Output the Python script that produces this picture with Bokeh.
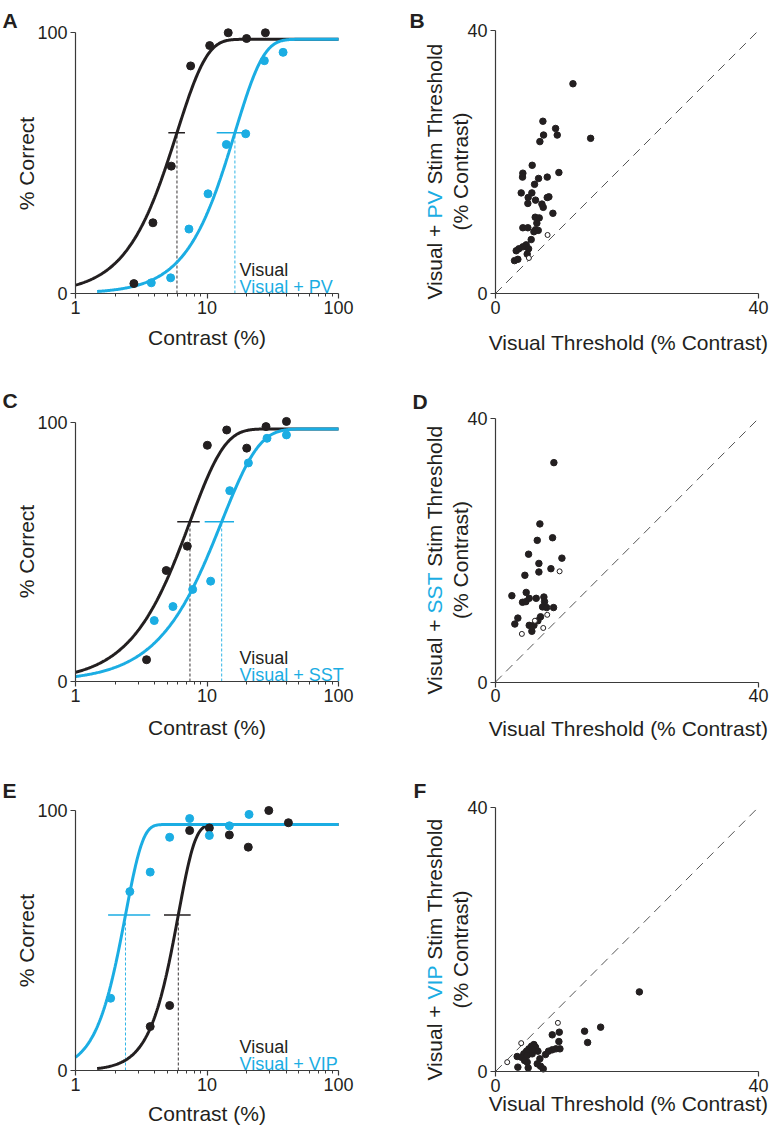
import numpy as np
from bokeh.plotting import figure
from bokeh.layouts import column, row
from bokeh.models import Range1d, FixedTicker, Label, PrintfTickFormatter
from bokeh.embed import file_html
from bokeh.resources import INLINE

BLUE = "#1BADE3"
BLACK = "#231F20"
AXIS = "#3a3a3a"
FONT = "Liberation Sans"

# ---------------- axes / tick values ----------------
contrast_range = [1, 100]
contrast_ticks = [1, 10, 100]
contrast_minor = [2, 3, 4, 5, 6, 7, 8, 9, 20, 30, 40, 50, 60, 70, 80, 90]
correct_range = [0, 100]
correct_ticks = [0, 100]
thresh_range = [0, 40]
thresh_ticks = [0, 40]

# ---------------- Panel A : PV ----------------
a_vis_x = [2.78, 3.88, 5.35, 7.51, 10.48, 14.5, 20.0, 27.8]
a_vis_y = [3.8, 27.1, 48.8, 87.2, 95.0, 99.9, 97.7, 99.9]
a_stim_x = [3.77, 5.29, 7.29, 10.18, 14.04, 19.7, 27.3, 37.9]
a_stim_y = [4.1, 6.0, 24.7, 38.2, 57.1, 61.2, 89.2, 92.4]
# fitted Weibull: threshold, slope, maximum, first contrast of curve
a_vis_fit = [5.91, 1.91, 97.4, 1.0]
a_stim_fit = [16.3, 2.0, 97.4, 1.46]
a_vis_ci = [5.08, 6.80]
a_stim_ci = [11.85, 19.5]

# ---------------- Panel C : SST ----------------
c_vis_x = [3.47, 4.90, 7.08, 10.06, 14.12, 20.05, 28.1, 40.2]
c_vis_y = [8.4, 42.8, 52.2, 91.1, 97.0, 90.0, 98.3, 100.3]
c_stim_x = [3.97, 5.51, 7.78, 10.66, 14.89, 20.64, 28.6, 40.2]
c_stim_y = [23.5, 28.9, 35.5, 38.7, 73.6, 84.3, 93.8, 95.1]
c_vis_fit = [7.42, 1.64, 97.4, 1.0]
c_stim_fit = [12.93, 1.53, 97.4, 1.0]
c_vis_ci = [5.94, 8.80]
c_stim_ci = [9.6, 16.05]

# ---------------- Panel E : VIP ----------------
e_vis_x = [3.70, 5.20, 7.38, 10.42, 14.79, 20.6, 29.5, 41.6]
e_vis_y = [16.9, 25.0, 92.3, 93.3, 90.6, 85.9, 100.0, 95.3]
e_stim_x = [1.85, 2.59, 3.70, 5.20, 7.38, 10.42, 14.79, 20.88]
e_stim_y = [27.8, 68.8, 76.3, 89.7, 96.9, 90.4, 94.1, 98.5]
e_vis_fit = [6.05, 3.4, 94.6, 1.46]
e_stim_fit = [2.40, 3.3, 94.6, 1.0]
e_vis_ci = [4.71, 7.51]
e_stim_ci = [1.77, 3.70]

# ---------------- Panel B : PV thresholds ----------------
b_fill_x = [11.78, 7.21, 9.14, 7.31, 9.39, 6.75, 14.47, 5.58, 4.16, 4.11, 7.87, 9.64,
            5.94, 6.55, 3.91, 5.53, 4.97, 6.09, 4.92, 7.06, 8.12, 7.87, 7.26, 8.73,
            6.04, 6.65, 4.16, 4.92, 6.29, 6.09, 5.84, 6.50, 5.43, 4.67, 4.16, 5.03,
            3.55, 3.15, 2.89, 3.40, 4.82]
b_fill_y = [31.9, 26.2, 25.1, 24.1, 24.1, 23.1, 23.6, 19.5, 18.3, 17.7, 17.7, 18.4,
            16.6, 17.5, 15.3, 15.3, 14.6, 14.2, 13.7, 13.6, 14.7, 14.6, 13.1, 12.2,
            11.6, 11.5, 10.0, 10.0, 10.7, 9.7, 9.4, 9.6, 8.2, 7.4, 7.1, 6.8,
            6.8, 6.5, 5.0, 5.2, 6.0]
b_open_x = [7.92, 5.08]
b_open_y = [8.9, 5.4]

# ---------------- Panel D : SST thresholds ----------------
d_fill_x = [8.88, 6.75, 6.35, 8.68, 5.03, 10.10, 6.60, 6.60, 8.43, 4.47, 2.49, 4.67,
            4.11, 4.62, 5.13, 6.19, 7.36, 7.46, 7.16, 7.77, 8.83, 3.40, 2.94, 5.13,
            6.85, 6.45, 5.84, 5.53]
d_fill_y = [33.3, 24.0, 21.5, 21.9, 19.4, 18.8, 18.0, 16.7, 17.2, 16.2, 13.1, 13.6,
            12.1, 12.2, 12.7, 12.7, 12.9, 12.2, 11.4, 11.3, 11.3, 9.7, 8.8, 8.6,
            9.9, 9.3, 8.6, 7.7]
d_open_x = [9.75, 7.87, 5.99, 7.26, 4.01]
d_open_y = [16.8, 10.2, 9.3, 8.2, 7.3]

# ---------------- Panel F : VIP thresholds ----------------
f_fill_x = [21.88, 15.99, 13.55, 14.01, 8.63, 9.70, 9.64, 9.80, 9.19, 8.63, 8.07, 7.61,
            5.84, 5.48, 6.09, 5.08, 4.72, 4.31, 3.30, 3.91, 4.82, 5.58, 6.45, 6.75,
            6.35, 6.85, 7.26, 4.82, 4.97, 3.40, 4.42, 5.58]
f_fill_y = [12.05, 6.71, 6.10, 4.39, 5.55, 5.95, 4.54, 3.43, 3.43, 3.28, 3.08, 2.57,
            4.08, 3.83, 3.68, 3.43, 3.08, 2.67, 2.27, 2.17, 2.42, 2.67, 3.08, 1.92,
            1.16, 0.81, 0.40, 1.41, 0.55, 0.66, 1.66, 3.28]
f_open_x = [9.49, 3.91, 1.78]
f_open_y = [7.36, 4.29, 1.41]

# Arial / Liberation Sans advance widths (1/1000 em)
ADV = {'V': 667, 'i': 222, 's': 500, 'u': 556, 'a': 556, 'l': 222, ' ': 278, '+': 584,
       'P': 667, 'S': 667, 'T': 611, 'I': 278, 't': 278, 'm': 833, 'h': 556, 'r': 333,
       'e': 556, 'o': 556, 'd': 556}


def text_w(s, fs):
    return sum(ADV.get(ch, 556) for ch in s) / 1000.0 * fs


def weibull(c, thr, slope, top):
    return top * (1.0 - np.exp(-(np.asarray(c) / thr) ** slope))


def make_fig(W, H, ox, oy, xppu, yppu, log):
    """Whole canvas is the frame; axes are pinned at the data origin."""
    if log:
        xr = Range1d(10 ** (-ox / xppu), 10 ** ((W - ox) / xppu))
    else:
        xr = Range1d(-ox / xppu, (W - ox) / xppu)
    yr = Range1d(-oy / yppu, (H - oy) / yppu)
    p = figure(width=W, height=H, x_range=xr, y_range=yr,
               x_axis_type="log" if log else "linear",
               min_border=0, output_backend="svg", toolbar_location=None)
    for ax in (p.xaxis[0], p.yaxis[0]):
        ax.axis_line_color = AXIS
        ax.axis_line_width = 1.2
        ax.major_tick_line_color = AXIS
        ax.major_tick_line_width = 1.2
        ax.major_tick_out = 5
        ax.major_tick_in = 0
        ax.minor_tick_line_color = AXIS
        ax.minor_tick_out = 3
        ax.minor_tick_in = 0
        ax.major_label_text_font = FONT
        ax.major_label_text_font_size = "18px"
        ax.major_label_text_color = BLACK
    p.xaxis[0].major_label_standoff = 2
    p.yaxis[0].major_label_standoff = 3
    p.grid.visible = False
    p.outline_line_color = None
    p.background_fill_color = "white"
    p.border_fill_color = "white"
    return p


def lab(p, text, x, y, size, color=BLACK, align="center", baseline="middle", angle=0.0, bold=False):
    p.add_layout(Label(x=x, y=y, x_units="screen", y_units="screen", text=text,
                       text_font=FONT, text_font_size=f"{size}px", text_color=color,
                       text_align=align, text_baseline=baseline, angle=angle,
                       text_font_style="bold" if bold else "normal"))


def curve_panel(letter, letter_dx, letter_dy, vis_x, vis_y, stim_x, stim_y, vis_fit, stim_fit,
                vis_ci, stim_ci, stim_name, H, oy, yppu, xlab_dy):
    ox = 75
    p = make_fig(408, H, ox, oy, 131.5, yppu, True)
    p.xaxis.fixed_location = correct_range[0]
    p.yaxis.fixed_location = contrast_range[0]
    p.xaxis.ticker = FixedTicker(ticks=contrast_ticks, minor_ticks=contrast_minor)
    p.xaxis.formatter = PrintfTickFormatter(format="%d")
    p.xaxis.bounds = (contrast_range[0], contrast_range[1])
    p.yaxis.ticker = FixedTicker(ticks=correct_ticks, minor_ticks=[])
    p.yaxis.bounds = (correct_range[0], correct_range[1])

    for fit, ci, col in ((vis_fit, vis_ci, BLACK), (stim_fit, stim_ci, BLUE)):
        thr, slope, topv, start = fit
        my = float(weibull(thr, thr, slope, topv))
        p.segment(x0=[thr], y0=[correct_range[0]], x1=[thr], y1=[my], line_color=col,
                  line_width=1, line_dash="3 2", line_alpha=0.9)
        p.segment(x0=[ci[0]], y0=[my], x1=[ci[1]], y1=[my], line_color=col, line_width=1.5)
    for fit, col in ((vis_fit, BLACK), (stim_fit, BLUE)):
        thr, slope, topv, start = fit
        cx = np.logspace(np.log10(start), np.log10(contrast_range[1]), 300)
        p.line(cx, weibull(cx, thr, slope, topv), line_color=col, line_width=3)
    p.scatter(vis_x, vis_y, size=8, color=BLACK)
    p.scatter(stim_x, stim_y, size=8, color=BLUE)

    lab(p, letter, ox + letter_dx, oy + letter_dy, 21, align="left", baseline="alphabetic", bold=True)
    lab(p, "% Correct", ox - 49, oy + 130, 21, angle=np.pi / 2)
    lab(p, "Contrast (%)", ox + 131.5, oy + xlab_dy, 21)
    lab(p, "Visual", ox + 164, oy + 24, 18, align="left", baseline="alphabetic")
    lab(p, "Visual + " + stim_name, ox + 164, oy + 7, 18, color=BLUE, align="left",
        baseline="alphabetic")
    return p


def thresh_panel(letter, letter_dx, letter_dy, fill_x, fill_y, open_x, open_y, stim_name,
                 H, oy, yppu, xlab_dy):
    ox = 87
    p = make_fig(365, H, ox, oy, 6.575, yppu, False)
    p.xaxis.fixed_location = thresh_range[0]
    p.yaxis.fixed_location = thresh_range[0]
    p.xaxis.ticker = FixedTicker(ticks=thresh_ticks, minor_ticks=[])
    p.yaxis.ticker = FixedTicker(ticks=thresh_ticks, minor_ticks=[])
    p.xaxis.bounds = (thresh_range[0], thresh_range[1])
    p.yaxis.bounds = (thresh_range[0], thresh_range[1])
    p.line(thresh_range, thresh_range, line_color="#555555", line_width=1, line_dash="9 6")
    p.scatter(fill_x, fill_y, size=6.5, color=BLACK)
    p.scatter(open_x, open_y, size=5, fill_color="white", line_color=BLACK, line_width=1)

    lab(p, letter, ox + letter_dx, oy + letter_dy, 21, align="left", baseline="alphabetic", bold=True)
    fs = 21
    first, last = "Visual +", "Stim Threshold"
    total = text_w(first + " " + stim_name + " " + last, fs)
    yc = oy + 122
    y0 = yc - total / 2
    lx = ox - 61
    lab(p, first, lx, y0, fs, align="left", angle=np.pi / 2)
    lab(p, stim_name, lx, y0 + text_w(first + " ", fs), fs, color=BLUE, align="left",
        angle=np.pi / 2)
    lab(p, last, lx, y0 + text_w(first + " " + stim_name + " ", fs), fs, align="left",
        angle=np.pi / 2)
    lab(p, "(% Contrast)", ox - 35, yc, fs, angle=np.pi / 2)
    lab(p, "Visual Threshold (% Contrast)", ox + 133, oy + xlab_dy, fs)
    return p


pA = curve_panel("A", -73, 273, a_vis_x, a_vis_y, a_stim_x, a_stim_y, a_vis_fit, a_stim_fit,
                 a_vis_ci, a_stim_ci, "PV", 390, 97, 2.61, -44)
pB = thresh_panel("B", -86, 273, b_fill_x, b_fill_y, b_open_x, b_open_y, "PV",
                  390, 97, 6.575, -49)
pC = curve_panel("C", -73, 281, c_vis_x, c_vis_y, c_stim_x, c_stim_y, c_vis_fit, c_stim_fit,
                 c_vis_ci, c_stim_ci, "SST", 390, 99, 2.593, -46)
pD = thresh_panel("D", -83, 281, d_fill_x, d_fill_y, d_open_x, d_open_y, "SST",
                  390, 98.5, 6.5875, -46)
pE = curve_panel("E", -73, 280, e_vis_x, e_vis_y, e_stim_x, e_stim_y, e_vis_fit, e_stim_fit,
                 e_vis_ci, e_stim_ci, "VIP", 346, 56, 2.60, -43)
pF = thresh_panel("F", -82, 281, f_fill_x, f_fill_y, f_open_x, f_open_y, "VIP",
                  346, 55, 6.6075, -32)

layout = column(row(pA, pB), row(pC, pD), row(pE, pF))
open("out.html", "w").write(file_html(layout, INLINE))
